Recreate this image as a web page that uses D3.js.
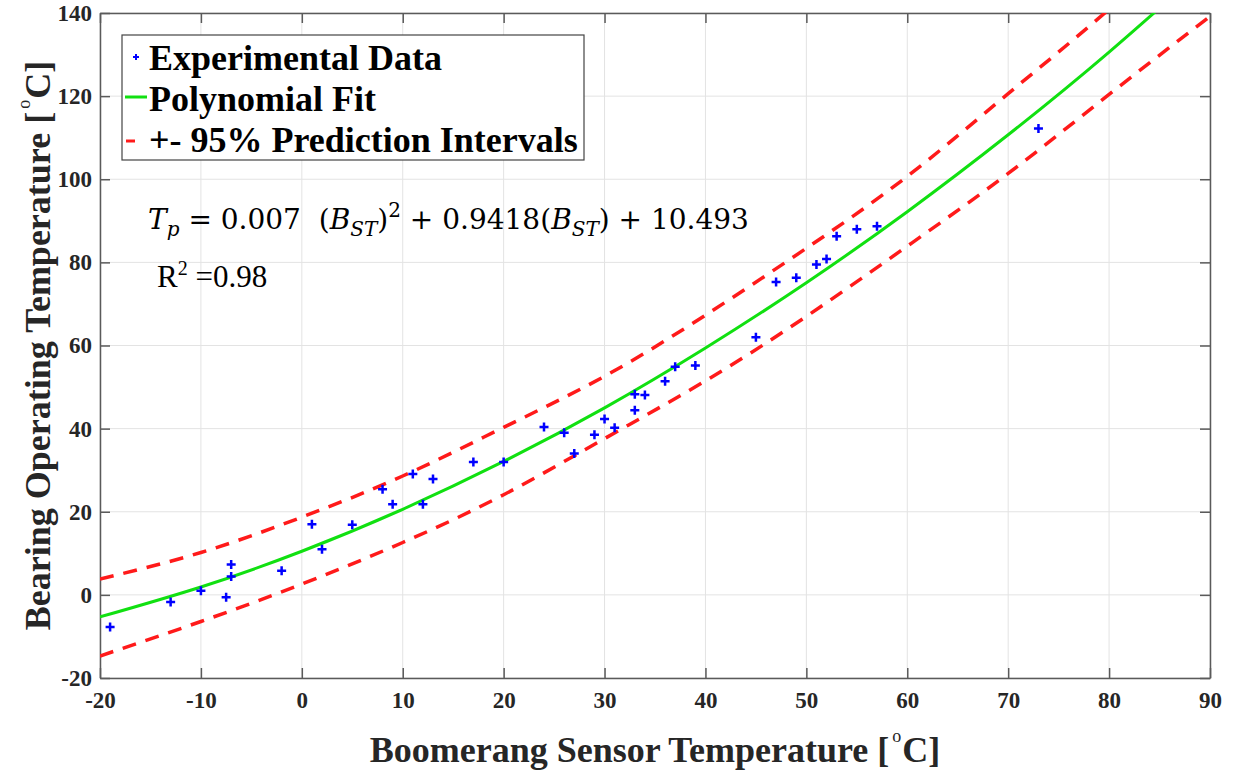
<!DOCTYPE html>
<html>
<head>
<meta charset="utf-8">
<script src="https://cdn.jsdelivr.net/npm/d3@7"></script>
<style>
  body { margin: 0; background: #fff; }
  svg { display: block; }
  .tick text { font-family: "Liberation Serif", "Times New Roman", serif; font-weight: bold; font-size: 23px; fill: #262626; }
</style>
</head>
<body>
<svg id="chart" width="1234" height="773"></svg>
<script>
// measured points
var bst = [-19, -13, -10, -7.5, -7, -7, -2, 1, 2, 5, 8, 9, 11, 12, 13, 17, 20, 24, 26, 27, 29, 30, 31, 33, 33, 34, 36, 37, 39, 45, 47, 49, 51, 52, 53, 55, 57, 73];
var tp  = [-7.7, -1.7, 1.0, -0.6, 7.3, 4.4, 5.8, 17.0, 11.0, 16.9, 25.4, 21.8, 29.1, 21.8, 27.9, 32.0, 32.0, 40.4, 39.0, 34.0, 38.5, 42.3, 40.2, 48.3, 44.4, 48.1, 51.4, 54.9, 55.2, 62.0, 75.3, 76.3, 79.5, 80.8, 86.3, 88.0, 88.7, 112.2];

// fit and prediction bands
var curveX = [-20, -10, 0, 10, 20, 30, 40, 50, 60, 70, 80, 90];
var fitY   = [-5.3, 1.9, 10.5, 20.6, 32.1, 45.0, 59.4, 75.1, 92.2, 110.7, 130.6, 152.0];
var upperY = [3.8, 10.2, 18.7, 28.6, 40.3, 52.6, 67.3, 83.4, 100.7, 120.6, 140.9, 163.0];
var lowerY = [-14.7, -6.4, 2.6, 12.6, 24.1, 37.6, 51.5, 67.0, 83.9, 101.4, 120.4, 139.2];

var xTicks = [-20, -10, 0, 10, 20, 30, 40, 50, 60, 70, 80, 90];
var yTicks = [-20, 0, 20, 40, 60, 80, 100, 120, 140];

var svg = d3.select('#chart');
var margin = {top: 13, right: 24, bottom: 95, left: 100};
var w = 1234 - margin.left - margin.right;
var h = 773 - margin.top - margin.bottom;

var x = d3.scaleLinear().domain([-20, 90]).range([0, w]);
var y = d3.scaleLinear().domain([-20, 140]).range([h, 0]);

var g = svg.append('g')
    .attr('transform', 'translate(' + margin.left + ',' + margin.top + ')');

svg.append('defs').append('clipPath').attr('id', 'clip')
  .append('rect').attr('width', w).attr('height', h);

// grid
g.append('g').selectAll('line.gx').data(xTicks).enter().append('line')
    .attr('x1', function(d) { return x(d); }).attr('x2', function(d) { return x(d); })
    .attr('y1', 0).attr('y2', h)
    .attr('stroke', '#e3e3e3').attr('stroke-width', 1);
g.append('g').selectAll('line.gy').data(yTicks).enter().append('line')
    .attr('y1', function(d) { return y(d); }).attr('y2', function(d) { return y(d); })
    .attr('x1', 0).attr('x2', w)
    .attr('stroke', '#e3e3e3').attr('stroke-width', 1);

// axes (ticks inward), plain hyphen for negatives
var fmt = function(d) { return String(d); };
var axColor = '#5a5a5a';
var xb = g.append('g').attr('transform', 'translate(0,' + h + ')')
    .call(d3.axisBottom(x).tickValues(xTicks).tickFormat(fmt).tickSizeInner(-10).tickSizeOuter(0).tickPadding(14));
var xt = g.append('g')
    .call(d3.axisTop(x).tickValues(xTicks).tickSizeInner(-10).tickSizeOuter(0).tickFormat(''));
var yl = g.append('g')
    .call(d3.axisLeft(y).tickValues(yTicks).tickFormat(fmt).tickSizeInner(-10).tickSizeOuter(0).tickPadding(8));
var yr = g.append('g').attr('transform', 'translate(' + w + ',0)')
    .call(d3.axisRight(y).tickValues(yTicks).tickSizeInner(-10).tickSizeOuter(0).tickFormat(''));
[xb, xt, yl, yr].forEach(function(a) {
  a.selectAll('path').attr('stroke', axColor).attr('stroke-width', 1.5);
  a.selectAll('line').attr('stroke', axColor).attr('stroke-width', 1.5);
});
xb.selectAll('text').attr('dy', '0.71em');

var plot = g.append('g').attr('clip-path', 'url(#clip)');

function curvePath(ys) {
  return d3.line()
    .curve(d3.curveNatural)
    .x(function(d, i) { return x(curveX[i]); })
    .y(function(d) { return y(d); })(ys);
}

plot.append('path').attr('d', curvePath(upperY))
    .attr('fill', 'none').attr('stroke', '#ff1a1a').attr('stroke-width', 3.5)
    .attr('stroke-dasharray', '14,10');
plot.append('path').attr('d', curvePath(lowerY))
    .attr('fill', 'none').attr('stroke', '#ff1a1a').attr('stroke-width', 3.5)
    .attr('stroke-dasharray', '14,10');
plot.append('path').attr('d', curvePath(fitY))
    .attr('fill', 'none').attr('stroke', '#11e011').attr('stroke-width', 3);

// data markers
var m = 4.5;
var pts = plot.selectAll('.pt').data(bst).enter().append('g')
    .attr('transform', function(d, i) { return 'translate(' + x(d) + ',' + y(tp[i]) + ')'; });
pts.append('path')
    .attr('d', 'M' + (-m) + ',0H' + m + 'M0,' + (-m) + 'V' + m)
    .attr('stroke', '#0000ff').attr('stroke-width', 2.5);

// legend
var lg = svg.append('g');
lg.append('rect').attr('x', 122).attr('y', 35).attr('width', 462).attr('height', 125)
    .attr('fill', '#fff').attr('stroke', '#444').attr('stroke-width', 1.2);
lg.append('path').attr('d', 'M133,57H139M136,54V60')
    .attr('stroke', '#0000ff').attr('stroke-width', 2);
lg.append('line').attr('x1', 125).attr('x2', 147).attr('y1', 97).attr('y2', 97)
    .attr('stroke', '#11e011').attr('stroke-width', 3);
lg.append('line').attr('x1', 126).attr('x2', 135).attr('y1', 141).attr('y2', 141)
    .attr('stroke', '#ff1a1a').attr('stroke-width', 3);
var legendNames = ['Experimental Data', 'Polynomial Fit', '+- 95% Prediction Intervals'];
var legendBase = [70, 111, 152];
lg.selectAll('text.lt').data(legendNames).enter().append('text')
    .attr('x', 149)
    .attr('y', function(d, i) { return legendBase[i]; })
    .attr('font-family', '"Liberation Serif", "Times New Roman", serif')
    .attr('font-weight', 'bold').attr('font-size', 36).attr('fill', '#000')
    .text(function(d) { return d; });

// equation
var eq = svg.append('text').attr('x', 148).attr('y', 229)
    .attr('font-family', '"DejaVu Serif", "Liberation Serif", serif')
    .attr('font-size', 28).attr('fill', '#000')
    .attr('xml:space', 'preserve').style('white-space', 'pre');
eq.append('tspan').attr('font-style', 'italic').text('T');
eq.append('tspan').attr('font-style', 'italic').attr('font-size', 20).attr('dy', 7).text('p');
eq.append('tspan').attr('dy', -7).text(' = 0.007  (');
eq.append('tspan').attr('font-style', 'italic').text('B');
eq.append('tspan').attr('font-style', 'italic').attr('font-size', 20).attr('dy', 7).text('ST');
eq.append('tspan').attr('dy', -7).text(')');
eq.append('tspan').attr('font-size', 20).attr('dy', -12).text('2');
eq.append('tspan').attr('dy', 12).text(' + 0.9418(');
eq.append('tspan').attr('font-style', 'italic').text('B');
eq.append('tspan').attr('font-style', 'italic').attr('font-size', 20).attr('dy', 7).text('ST');
eq.append('tspan').attr('dy', -7).text(') + 10.493');

var r2 = svg.append('text').attr('x', 157).attr('y', 287)
    .attr('font-family', '"Liberation Serif", "Times New Roman", serif')
    .attr('font-size', 31).attr('fill', '#000');
r2.append('tspan').text('R');
r2.append('tspan').attr('font-size', 20).attr('dy', -12).text('2');
r2.append('tspan').attr('dy', 12).text(' =0.98');

// axis titles
function addTitle(sel, label) {
  sel.append('tspan').text(label + ' [');
  sel.append('tspan').attr('font-size', 18).attr('font-weight', 'normal').attr('dy', -20).attr('dx', 3).text('o');
  sel.append('tspan').attr('dy', 20).attr('dx', 1).text('C]');
}

var xTitle = svg.append('text')
    .attr('x', margin.left + w / 2).attr('y', 762)
    .attr('text-anchor', 'middle')
    .attr('font-family', '"Liberation Serif", "Times New Roman", serif')
    .attr('font-weight', 'bold').attr('font-size', 36).attr('fill', '#262626');
addTitle(xTitle, 'Boomerang Sensor Temperature');

var yTitle = svg.append('text')
    .attr('transform', 'translate(50,' + (margin.top + h / 2) + ') rotate(-90)')
    .attr('text-anchor', 'middle')
    .attr('font-family', '"Liberation Serif", "Times New Roman", serif')
    .attr('font-weight', 'bold').attr('font-size', 36).attr('fill', '#262626');
addTitle(yTitle, 'Bearing Operating Temperature');
</script>
</body>
</html>
